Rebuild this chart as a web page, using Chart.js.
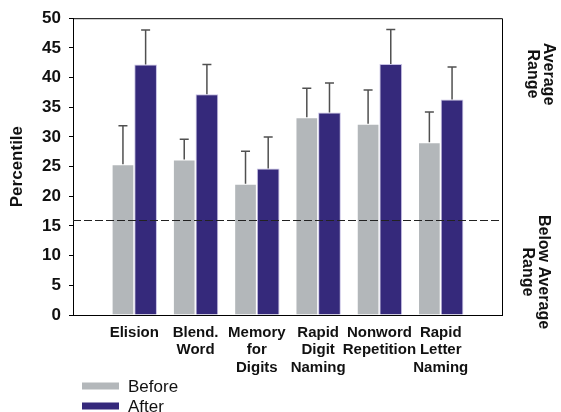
<!DOCTYPE html>
<html>
<head>
<meta charset="utf-8">
<script src="https://cdn.jsdelivr.net/npm/chart.js@4"></script>
<style>
  body { margin: 0; background: #fff; }
  #wrap { width: 561px; height: 412px; }
</style>
</head>
<body>
<div id="wrap"><canvas id="chart" width="561" height="412"></canvas></div>
<script>
const categories = [
    ['Elision'],
    ['Blend.', 'Word'],
    ['Memory', 'for', 'Digits'],
    ['Rapid', 'Digit', 'Naming'],
    ['Nonword', 'Repetition'],
    ['Rapid', 'Letter', 'Naming']
];
const beforeValues = [25.4, 26.2, 22.1, 33.3, 32.2, 29.1];
const afterValues = [42.2, 37.2, 24.7, 34.1, 42.3, 36.3];
const beforeErrors = [6.5, 3.4, 5.5, 4.9, 5.7, 5.1];
const afterErrors = [5.8, 5.0, 5.3, 5.0, 5.8, 5.5];
const yTicks = [0, 5, 10, 15, 20, 25, 30, 35, 40, 45, 50];
const cutoff = 16;

const grey = '#b3b7ba';
const purple = '#35297b';
const font = '"Liberation Sans", Arial, sans-serif';

// empty slot at each end, so the groups sit one slot in from the frame
const pad = arr => [null, ...arr, null];

const errorBars = {
    id: 'errorBars',
    afterDatasetsDraw(chart) {
        const ctx = chart.ctx;
        const y = chart.scales.y;
        const errs = [beforeErrors, afterErrors];
        ctx.save();
        ctx.strokeStyle = '#505050';
        ctx.lineWidth = 1.5;
        chart.data.datasets.forEach((ds, d) => {
            chart.getDatasetMeta(d).data.forEach((bar, i) => {
                const v = ds.data[i];
                if (v == null) return;
                const top = y.getPixelForValue(v + errs[d][i - 1]);
                ctx.beginPath();
                ctx.moveTo(bar.x, bar.y);
                ctx.lineTo(bar.x, top);
                ctx.moveTo(bar.x - 4.5, top);
                ctx.lineTo(bar.x + 4.5, top);
                ctx.stroke();
            });
        });
        ctx.restore();
    }
};

const extras = {
    id: 'extras',
    afterDraw(chart) {
        const ctx = chart.ctx;
        const a = chart.chartArea;
        const y = chart.scales.y;
        ctx.save();
        // frame on top and right
        ctx.strokeStyle = '#000';
        ctx.lineWidth = 1;
        ctx.beginPath();
        ctx.moveTo(a.left, a.top + 0.5);
        ctx.lineTo(a.right + 0.5, a.top + 0.5);
        ctx.lineTo(a.right + 0.5, a.bottom);
        ctx.stroke();
        // cutoff line
        const cy = Math.round(y.getPixelForValue(cutoff)) + 0.5;
        ctx.setLineDash([8, 3]);
        ctx.strokeStyle = '#222';
        ctx.beginPath();
        ctx.moveTo(a.left, cy);
        ctx.lineTo(a.right, cy);
        ctx.stroke();
        ctx.setLineDash([]);

        // range notes on the right
        ctx.fillStyle = '#111';
        ctx.font = 'bold 16px ' + font;
        ctx.textAlign = 'center';
        ctx.textBaseline = 'middle';
        const note = (lines, x, yy) => {
            ctx.save();
            ctx.translate(x, yy);
            ctx.rotate(Math.PI / 2);
            lines.forEach((t, k) => ctx.fillText(t, 0, k * 16 - (lines.length - 1) * 8));
            ctx.restore();
        };
        note(['Average', 'Range'], 540, 74);
        note(['Below Average', 'Range'], 535, 272);

        // legend
        ctx.textAlign = 'left';
        ctx.font = '17px ' + font;
        chart.data.datasets.forEach((ds, d) => {
            const ly = 386 + d * 20;
            ctx.fillStyle = ds.backgroundColor;
            ctx.fillRect(82, ly - 3.5, 37, 7);
            ctx.fillStyle = '#111';
            ctx.fillText(ds.label, 128, ly + 1);
        });
        ctx.restore();
    }
};

new Chart(document.getElementById('chart'), {
    type: 'bar',
    data: {
        labels: pad(categories).map(c => c || ''),
        datasets: [
            { label: 'Before', data: pad(beforeValues), backgroundColor: grey,
              borderColor: 'rgba(255,255,255,0.7)', borderWidth: 1 },
            { label: 'After', data: pad(afterValues), backgroundColor: purple,
              borderColor: 'rgba(160,150,210,0.6)', borderWidth: 1 }
        ]
    },
    options: {
        responsive: false,
        animation: false,
        categoryPercentage: 0.74,
        barPercentage: 1,
        layout: { padding: { top: 15, right: 59, left: 0, bottom: 0 } },
        plugins: { legend: { display: false }, tooltip: { enabled: false } },
        scales: {
            x: {
                offset: false,
                grid: { display: false, drawTicks: false },
                border: { display: true, color: '#000', width: 1 },
                ticks: {
                    autoSkip: false, maxRotation: 0, padding: 9, color: '#111',
                    font: { family: font, size: 15, weight: 'bold', lineHeight: 1.17 }
                },
                afterFit(s) { s.height = 97; }
            },
            y: {
                min: 0, max: 50,
                afterBuildTicks(s) { s.ticks = yTicks.map(v => ({ value: v })); },
                grid: { drawOnChartArea: false, tickLength: 4, color: '#000' },
                border: { display: true, color: '#000', width: 1 },
                ticks: {
                    padding: 8, color: '#111',
                    font: { family: font, size: 17, weight: 'bold' }
                },
                title: {
                    display: true, text: 'Percentile', color: '#111', padding: { top: 7, bottom: 0 },
                    font: { family: font, size: 17, weight: 'bold' }
                },
                afterFit(s) { s.width = 73; }
            }
        }
    },
    plugins: [errorBars, extras]
});
</script>
</body>
</html>
